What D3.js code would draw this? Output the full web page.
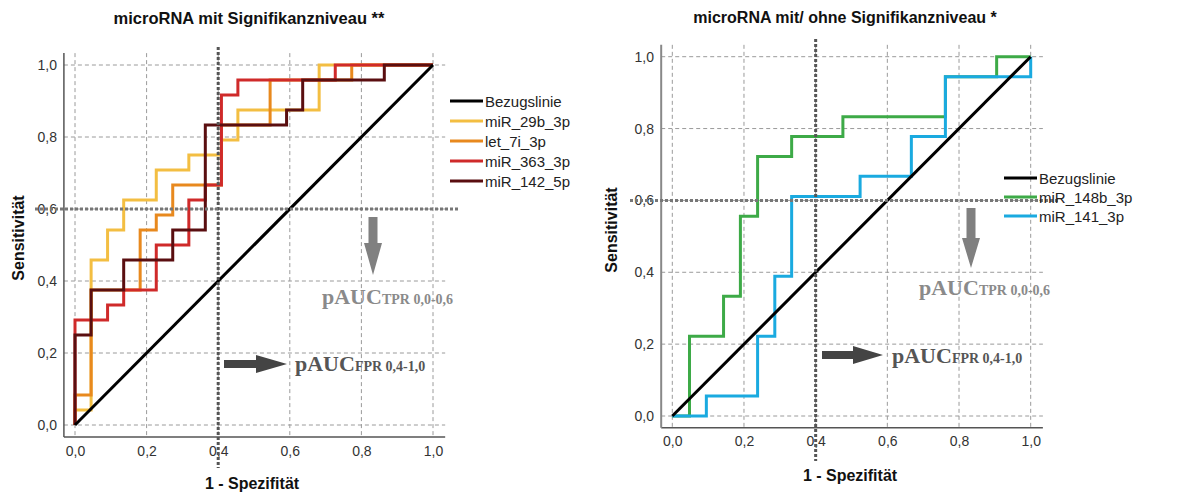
<!DOCTYPE html>
<html><head><meta charset="utf-8">
<script src="https://cdn.jsdelivr.net/npm/d3@7"></script>
<style>body{margin:0;background:#fff}svg{display:block}</style>
</head><body>
<svg id="c" width="1195" height="492"></svg>
<script>
// ---------- data ----------
const tickValues = [0, 0.2, 0.4, 0.6, 0.8, 1.0];
const tickLabels = ["0,0", "0,2", "0,4", "0,6", "0,8", "1,0"];
const refLine = [[0, 0], [1, 1]];

const leftTitle = "microRNA mit Signifikanzniveau **";
const leftNames = ["Bezugslinie", "miR_29b_3p", "let_7i_3p", "miR_363_3p", "miR_142_5p"];
const miR_29b_3p = [[0,0],[0,0.042],[0.045,0.042],[0.045,0.458],[0.091,0.458],[0.091,0.542],[0.136,0.542],[0.136,0.625],[0.227,0.625],[0.227,0.708],[0.318,0.708],[0.318,0.75],[0.409,0.75],[0.409,0.792],[0.455,0.792],[0.455,0.875],[0.682,0.875],[0.682,1],[1,1]];
const let_7i_3p = [[0,0],[0,0.083],[0.045,0.083],[0.045,0.375],[0.182,0.375],[0.182,0.542],[0.227,0.542],[0.227,0.583],[0.273,0.583],[0.273,0.667],[0.409,0.667],[0.409,0.833],[0.545,0.833],[0.545,0.958],[0.773,0.958],[0.773,1],[1,1]];
const miR_363_3p = [[0,0],[0,0.292],[0.091,0.292],[0.091,0.333],[0.136,0.333],[0.136,0.375],[0.227,0.375],[0.227,0.5],[0.318,0.5],[0.318,0.625],[0.364,0.625],[0.364,0.667],[0.409,0.667],[0.409,0.917],[0.455,0.917],[0.455,0.958],[0.727,0.958],[0.727,1],[1,1]];
const miR_142_5p = [[0,0],[0,0.25],[0.045,0.25],[0.045,0.375],[0.136,0.375],[0.136,0.458],[0.273,0.458],[0.273,0.542],[0.364,0.542],[0.364,0.833],[0.591,0.833],[0.591,0.875],[0.636,0.875],[0.636,0.958],[0.864,0.958],[0.864,1],[1,1]];

const rightTitle = "microRNA mit/ ohne Signifikanzniveau *";
const rightNames = ["Bezugslinie", "miR_148b_3p", "miR_141_3p"];
const miR_148b_3p = [[0,0],[0.048,0],[0.048,0.222],[0.143,0.222],[0.143,0.333],[0.19,0.333],[0.19,0.556],[0.238,0.556],[0.238,0.722],[0.333,0.722],[0.333,0.778],[0.476,0.778],[0.476,0.833],[0.762,0.833],[0.762,0.944],[0.905,0.944],[0.905,1],[1,1]];
const miR_141_3p = [[0,0],[0.095,0],[0.095,0.056],[0.238,0.056],[0.238,0.222],[0.286,0.222],[0.286,0.389],[0.333,0.389],[0.333,0.611],[0.524,0.611],[0.524,0.667],[0.667,0.667],[0.667,0.778],[0.762,0.778],[0.762,0.944],[1,0.944],[1,1]];

const fprCut = 0.4, tprCut = 0.6;

// ---------- drawing ----------
const svg = d3.select("#c");
const SANS = "'Liberation Sans', Arial, sans-serif";
const SERIF = "'Liberation Serif', 'Times New Roman', serif";

function panel(cfg) {
  const x = d3.scaleLinear().domain([0, 1]).range([cfg.x0, cfg.x1]);
  const y = d3.scaleLinear().domain([0, 1]).range([cfg.y0, cfg.y1]);
  const g = svg.append("g");
  const fl = x(-0.031), fr = x(1.034), ft = y(1.033), fb = y(-0.033);

  // grid
  tickValues.forEach(v => {
    g.append("line").attr("x1", x(v)).attr("x2", x(v)).attr("y1", ft).attr("y2", fb)
      .attr("stroke", "#9a9a9a").attr("stroke-width", 1).attr("stroke-dasharray", "4,3");
    g.append("line").attr("y1", y(v)).attr("y2", y(v)).attr("x1", fl).attr("x2", fr)
      .attr("stroke", "#9a9a9a").attr("stroke-width", 1).attr("stroke-dasharray", "4,3");
  });

  // axes
  const xAxis = d3.axisBottom(x).tickValues(tickValues).tickFormat((d, i) => tickLabels[i]).tickSize(0).tickPadding(cfg.xTickPad);
  const yAxis = d3.axisLeft(y).tickValues(tickValues).tickFormat((d, i) => tickLabels[i]).tickSize(0).tickPadding(x(0) - cfg.yTickRight);
  const gx = g.append("g").attr("transform", `translate(0,${fb})`).call(xAxis);
  gx.select(".domain").attr("d", `M${fl},0H${fr}`).attr("stroke", "#555").attr("stroke-width", 1.5);
  const gy = g.append("g").attr("transform", `translate(${x(0)},0)`).call(yAxis);
  gy.select(".domain").attr("d", `M${fl - x(0)},${ft}V${fb}`).attr("stroke", cfg.yAxisColor).attr("stroke-width", cfg.yAxisWidth);
  g.selectAll(".tick text").attr("font-family", SANS).attr("font-size", 14).attr("fill", "#333");

  // curves
  const line = d3.line().x(d => x(d[0])).y(d => y(d[1]));
  cfg.series.forEach(s => {
    g.append("path").attr("d", line(s.data)).attr("fill", "none")
      .attr("stroke", s.color).attr("stroke-width", 3).attr("stroke-linejoin", "miter");
  });
  g.append("path").attr("d", line(refLine)).attr("fill", "none").attr("stroke", "#000").attr("stroke-width", 3);

  // cut lines
  g.append("line").attr("x1", x(fprCut)).attr("x2", x(fprCut)).attr("y1", cfg.vTop).attr("y2", cfg.vBot)
    .attr("stroke", "#555").attr("stroke-width", 3).attr("stroke-dasharray", "3,2");
  g.append("line").attr("y1", y(tprCut)).attr("y2", y(tprCut)).attr("x1", cfg.hLeft).attr("x2", cfg.hRight)
    .attr("stroke", "#777").attr("stroke-width", 3).attr("stroke-dasharray", "3,2");

  // arrows
  const da = cfg.down;
  g.append("path").attr("fill", "#808080").attr("d",
    `M${da.x - 4.5},${da.top}H${da.x + 4.5}V${da.neck}H${da.x + 9}L${da.x},${da.tip}L${da.x - 9},${da.neck}H${da.x - 4.5}Z`);
  const ra = cfg.right;
  g.append("path").attr("fill", "#444").attr("d",
    `M${ra.left},${ra.y - 4}H${ra.neck}V${ra.y - 9}L${ra.tip},${ra.y}L${ra.neck},${ra.y + 9}V${ra.y + 4}H${ra.left}Z`);

  // pAUC labels
  const t1 = g.append("text").attr("x", cfg.tprText[0]).attr("y", cfg.tprText[1])
    .attr("font-family", SERIF).attr("font-weight", "bold").attr("fill", "#8a8a8a");
  t1.append("tspan").attr("font-size", 22).text("pAUC");
  t1.append("tspan").attr("font-size", 14).text("TPR 0,0-0,6");
  const t2 = g.append("text").attr("x", cfg.fprText[0]).attr("y", cfg.fprText[1])
    .attr("font-family", SERIF).attr("font-weight", "bold").attr("fill", "#555");
  t2.append("tspan").attr("font-size", 22).text("pAUC");
  t2.append("tspan").attr("font-size", 14).text("FPR 0,4-1,0");

  // titles & labels
  g.append("text").attr("x", cfg.titlePos[0]).attr("y", cfg.titlePos[1]).attr("text-anchor", "middle")
    .attr("font-family", SANS).attr("font-weight", "bold").attr("font-size", cfg.titleSize).attr("fill", "#111").text(cfg.title);
  g.append("text").attr("x", cfg.xLabPos[0]).attr("y", cfg.xLabPos[1]).attr("text-anchor", "middle")
    .attr("font-family", SANS).attr("font-weight", "bold").attr("font-size", 16).attr("fill", "#111").text("1 - Spezifität");
  g.append("text").attr("transform", `translate(${cfg.yLabPos[0]},${cfg.yLabPos[1]}) rotate(-90)`).attr("text-anchor", "middle")
    .attr("font-family", SANS).attr("font-weight", "bold").attr("font-size", 16).attr("fill", "#111").text("Sensitivität");

  // legend
  const items = [{ name: cfg.names[0], color: "#000" }].concat(cfg.series.map((s, i) => ({ name: cfg.names[i + 1], color: s.color })));
  items.forEach((it, i) => {
    const ly = cfg.legend[1] + i * cfg.legendStep;
    g.append("line").attr("x1", cfg.legend[0]).attr("x2", cfg.legend[0] + 33).attr("y1", ly).attr("y2", ly)
      .attr("stroke", it.color).attr("stroke-width", 3);
    g.append("text").attr("x", cfg.legend[0] + 35).attr("y", ly + 5.5).attr("font-family", SANS).attr("font-size", 15)
      .attr("fill", "#222").text(it.name);
  });
}

panel({
  x0: 75, x1: 433, y0: 425, y1: 65,
  yAxisColor: "#555", yAxisWidth: 1.5, yTickRight: 57, xTickPad: 9,
  series: [
    { data: miR_29b_3p, color: "#F3BE42" },
    { data: let_7i_3p, color: "#E8891E" },
    { data: miR_363_3p, color: "#CF2A2A" },
    { data: miR_142_5p, color: "#5A0E10" }
  ],
  names: leftNames, title: leftTitle, titleSize: 16.5,
  vTop: 47, vBot: 468, hLeft: 35, hRight: 460,
  down: { x: 373, top: 217, neck: 243, tip: 275 },
  right: { left: 224, neck: 256, tip: 287, y: 364 },
  tprText: [322, 304], fprText: [295, 371],
  titlePos: [249, 24], xLabPos: [252, 489], yLabPos: [24, 238],
  legend: [450, 101], legendStep: 20
});

panel({
  x0: 672.3, x1: 1030.7, y0: 416, y1: 56.7,
  yAxisColor: "#888", yAxisWidth: 2, yTickRight: 654, xTickPad: 8,
  series: [
    { data: miR_148b_3p, color: "#3DAA47" },
    { data: miR_141_3p, color: "#1AAAE0" }
  ],
  names: rightNames, title: rightTitle, titleSize: 16,
  vTop: 39, vBot: 461, hLeft: 630, hRight: 1060,
  down: { x: 971, top: 208, neck: 238, tip: 268 },
  right: { left: 822, neck: 853, tip: 883, y: 355 },
  tprText: [919, 295], fprText: [892, 363],
  titlePos: [845, 23], xLabPos: [850, 481], yLabPos: [617, 230],
  legend: [1004, 178], legendStep: 19
});
</script>
</body></html>
